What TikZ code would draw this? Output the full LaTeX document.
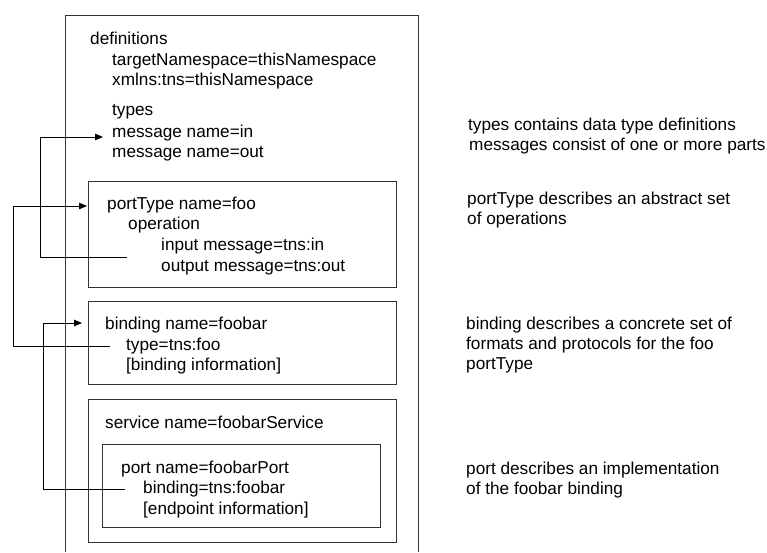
\documentclass[tikz,border=0pt]{standalone}
\usepackage{fontspec}
\setmainfont{Liberation Sans}
\usetikzlibrary{arrows.meta}

\begin{document}
\begin{tikzpicture}[x=1pt,y=-1pt,
  every node/.style={font=\fontsize{17.2}{20}\selectfont},
  txt/.style={anchor=west,inner sep=0pt,text height=12pt,text depth=3.5pt},
  frame/.style={draw=black!80,line width=1pt},
  link/.style={draw=black,line width=1pt,-{Triangle[length=8pt,width=6.5pt]}},
  stub/.style={draw=black,line width=1pt}]
  \useasboundingbox (0,0) rectangle (767,552);

  % outer definitions frame, open at the bottom
  \draw[frame] (65,552) -- (65,15) -- (418,15) -- (418,552);
  % nested element boxes
  \draw[frame] (88,181) rectangle (396,287);
  \draw[frame] (88,301) rectangle (396,384);
  \draw[frame] (88,399) rectangle (396,542);
  \draw[frame] (102,444) rectangle (380,527);

  % definitions element
  \node[txt] (defs) at (90,40) {definitions};
  \node[txt] (tns) at (112,61) {targetNamespace=thisNamespace};
  \node[txt] (xmlns) at (112,81) {xmlns:tns=thisNamespace};
  \node[txt] (types) at (112,111) {types};
  \node[txt] (msgin) at (112,133) {message name=in};
  \node[txt] (msgout) at (112,153) {message name=out};

  % portType element
  \node[txt] (pt) at (107,205) {portType name=foo};
  \node[txt] (op) at (128,225) {operation};
  \node[txt] (inp) at (161,246) {input message=tns:in};
  \node[txt] (outp) at (161,267) {output message=tns:out};

  % binding element
  \node[txt] (bind) at (105,325) {binding name=foobar};
  \node[txt] (btype) at (126,346) {type=tns:foo};
  \node[txt] (binfo) at (126,366) {[binding information]};

  % service element
  \node[txt] (svc) at (105,424) {service name=foobarService};
  \node[txt] (port) at (121,469) {port name=foobarPort};
  \node[txt] (pbind) at (143,489) {binding=tns:foobar};
  \node[txt] (einfo) at (143,510) {[endpoint information]};

  % explanations on the right
  \node[txt] (n1a) at (468,126) {types contains data type definitions};
  \node[txt] (n1b) at (469,146) {messages consist of one or more parts};
  \node[txt] (n2a) at (467,200) {portType describes an abstract set};
  \node[txt] (n2b) at (467,220) {of operations};
  \node[txt] (n3a) at (466,325) {binding describes a concrete set of};
  \node[txt] (n3b) at (466,345) {formats and protocols for the foo};
  \node[txt] (n3c) at (466,365) {portType};
  \node[txt] (n4a) at (466,470) {port describes an implementation};
  \node[txt] (n4b) at (466,490) {of the foobar binding};

  % reference wiring: stubs, rails and arrow tips
  \coordinate (s1) at (127,257);
  \coordinate (r1) at (40,0);
  \coordinate (t1) at (103,137);
  \coordinate (s2) at (110,346);
  \coordinate (r2) at (13,0);
  \coordinate (t2) at (87,206);
  \coordinate (s3) at (125,489);
  \coordinate (r3) at (43,0);
  \coordinate (t3) at (82,323);

  \draw[link] (s1) -- (s1 -| r1) -- (r1 |- t1) -- (t1);
  \draw[link] (s2) -- (s2 -| r2) -- (r2 |- t2) -- (t2);
  \draw[link] (s3) -- (s3 -| r3) -- (r3 |- t3) -- (t3);
\end{tikzpicture}
\end{document}
